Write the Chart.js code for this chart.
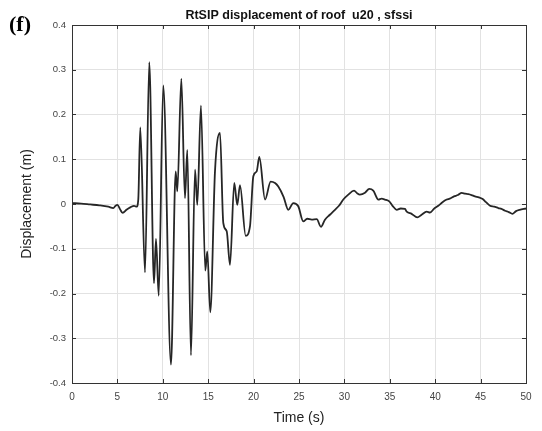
<!DOCTYPE html>
<html>
<head>
<meta charset="utf-8">
<script src="https://cdn.jsdelivr.net/npm/chart.js@4.4.1/dist/chart.umd.min.js"></script>
<style>
  html, body { margin: 0; padding: 0; background: #ffffff; }
  #wrap { width: 542px; height: 431px; }
</style>
</head>
<body>
<div id="wrap"><canvas id="disp_chart" width="542" height="431"></canvas></div>
<script>
// roof displacement (time in s, displacement in m)
const time_s = [
  0, 1, 2, 3, 4, 4.55, 4.8, 5.0, 5.3, 5.58, 6.0, 6.46, 6.83, 7.12, 7.3, 7.52,
  8.04, 8.51, 9.03, 9.25, 9.55, 10.05, 10.9, 11.42, 11.6, 12.04, 12.44, 12.7,
  13.1, 13.55, 13.8, 14.2, 14.68, 14.9, 15.23, 15.75, 16.3, 16.66, 17.04, 17.4,
  17.87, 18.2, 18.5, 19.13, 19.6, 19.97, 20.34, 20.63, 21.26, 21.88, 22.36, 22.72,
  23.3, 23.82, 24.37, 24.92, 25.47, 25.9, 26.4, 26.95, 27.42, 27.86, 28.4, 28.96,
  29.4, 29.88, 30.43, 31.06, 31.4, 31.7, 32.27, 32.74, 33.18, 33.74, 34.1, 34.47,
  34.94, 35.3, 35.76, 36.2, 36.67, 36.86, 37.4, 38.03, 38.5, 39.06, 39.43, 39.9,
  40.34, 40.8, 41.27, 41.6, 42.07, 42.5, 42.92, 43.3, 43.65, 44.0, 44.38, 44.8,
  45.23, 45.6, 46.04, 46.5, 46.95, 47.3, 47.69, 48.1, 48.5, 48.9, 49.3, 50
];
const displacement_m = [
  0.002, 0.001, -0.001, -0.003, -0.006, -0.009, -0.004, -0.002, -0.012, -0.02, -0.013, -0.007, -0.004, -0.006, 0.01, 0.171,
  -0.153, 0.317, -0.177, -0.078, -0.205, 0.265, -0.359, 0.073, 0.028, 0.28, 0.013, 0.121,
  -0.338, 0.077, -0.002, 0.22, -0.149, -0.106, -0.242, 0.074, 0.159, -0.042, -0.061, -0.136,
  0.047, -0.002, 0.042, -0.071, -0.05, 0.062, 0.073, 0.105, 0.01, 0.05, 0.047, 0.039,
  0.016, -0.013, 0.002, -0.005, -0.039, -0.033, -0.035, -0.034, -0.051, -0.035, -0.024, -0.013,
  -0.004, 0.01, 0.021, 0.03, 0.024, 0.021, 0.025, 0.034, 0.03, 0.01, 0.012, 0.01,
  0.006, -0.004, -0.013, -0.01, -0.011, -0.017, -0.022, -0.03, -0.024, -0.017, -0.019, -0.01,
  -0.004, 0.004, 0.01, 0.012, 0.017, 0.02, 0.025, 0.023, 0.022, 0.02, 0.017, 0.015,
  0.011, 0.004, -0.004, -0.006, -0.009, -0.011, -0.015, -0.018, -0.022, -0.016, -0.013, -0.01
];
const x_ticks = [0, 5, 10, 15, 20, 25, 30, 35, 40, 45, 50];
const y_ticks = [-0.4, -0.3, -0.2, -0.1, 0, 0.1, 0.2, 0.3, 0.4];
const chart_title = "RtSIP displacement of roof  u20 , sfssi";

const axis_colour = "#333333";
const grid_colour = "#e2e2e2";
const sans = "'Liberation Sans', Arial, sans-serif";

// MATLAB style box with inward ticks, title over the axes, panel letter
const matlabBoxPlugin = {
  id: "matlabBox",
  afterDraw(chart) {
    const { ctx, chartArea: a, scales } = chart;
    ctx.save();
    ctx.strokeStyle = axis_colour;
    ctx.lineWidth = 1;
    const tick_len = 4;
    ctx.beginPath();
    x_ticks.forEach((t) => {
      const px = Math.round(scales.x.getPixelForValue(t)) + 0.5;
      ctx.moveTo(px, a.bottom); ctx.lineTo(px, a.bottom - tick_len);
      ctx.moveTo(px, a.top); ctx.lineTo(px, a.top + tick_len);
    });
    y_ticks.forEach((v) => {
      const py = Math.round(scales.y.getPixelForValue(v)) + 0.5;
      ctx.moveTo(a.left, py); ctx.lineTo(a.left + tick_len, py);
      ctx.moveTo(a.right, py); ctx.lineTo(a.right - tick_len, py);
    });
    ctx.stroke();
    ctx.strokeRect(Math.round(a.left) + 0.5, Math.round(a.top) + 0.5,
      Math.round(a.right - a.left), Math.round(a.bottom - a.top));

    // title centred on the axes, as MATLAB does
    ctx.fillStyle = "#111111";
    ctx.font = "bold 12.5px " + sans;
    ctx.textAlign = "center";
    ctx.textBaseline = "middle";
    ctx.fillText(chart_title, (a.left + a.right) / 2, 16);

    ctx.fillStyle = "#000000";
    ctx.font = "bold 22px 'Liberation Serif', 'Times New Roman', serif";
    ctx.textBaseline = "alphabetic";
    ctx.textAlign = "left";
    ctx.fillText("(f)", 9, 31);
    ctx.restore();
  }
};

const ctx = document.getElementById("disp_chart").getContext("2d");

const disp_chart = new Chart(ctx, {
  type: "line",
  data: {
    datasets: [{
      data: time_s.map((t, i) => ({ x: t, y: displacement_m[i] })),
      borderColor: "#262626",
      borderWidth: 1.8,
      pointRadius: 0,
      cubicInterpolationMode: "monotone",
      fill: false
    }]
  },
  options: {
    responsive: false,
    animation: false,
    devicePixelRatio: 1,
    layout: { padding: { left: 0, right: 16, top: 25, bottom: 0 } },
    plugins: {
      legend: { display: false },
      tooltip: { enabled: false },
      title: { display: false }
    },
    scales: {
      x: {
        type: "linear",
        min: 0,
        max: 50,
        afterFit: (scale) => { scale.height = 48; },
        afterBuildTicks: (scale) => { scale.ticks = x_ticks.map((v) => ({ value: v })); },
        ticks: {
          color: "#444444",
          font: { size: 10, family: sans },
          padding: 8,
          maxRotation: 0,
          callback: (v) => String(v)
        },
        grid: { color: grid_colour, drawTicks: false },
        border: { display: false },
        title: {
          display: true,
          text: "Time (s)",
          color: "#222222",
          font: { size: 14, family: sans },
          padding: { top: 0, bottom: 4 }
        }
      },
      y: {
        type: "linear",
        min: -0.4,
        max: 0.4,
        afterFit: (scale) => { scale.width = 72; },
        afterBuildTicks: (scale) => { scale.ticks = y_ticks.map((v) => ({ value: v })); },
        ticks: {
          color: "#444444",
          font: { size: 9.5, family: sans },
          padding: 6,
          callback: (v) => String(Math.round(v * 10) / 10)
        },
        grid: { color: grid_colour, drawTicks: false },
        border: { display: false },
        title: {
          display: true,
          text: "Displacement (m)",
          color: "#222222",
          font: { size: 14, family: sans },
          padding: { top: 19, bottom: 0 }
        }
      }
    }
  },
  plugins: [matlabBoxPlugin]
});
</script>
</body>
</html>
